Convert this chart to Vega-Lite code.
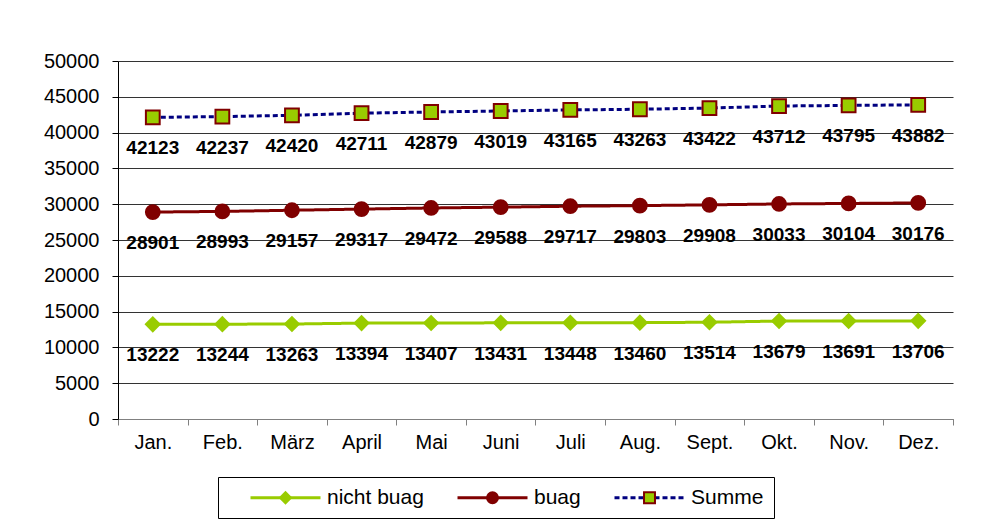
{
  "$schema": "https://vega.github.io/schema/vega-lite/v6.json",
  "width": 835,
  "height": 358,
  "autosize": {"type": "none"},
  "padding": {"left": 118, "top": 61, "right": 28, "bottom": 111},
  "background": "white",
  "config": {
    "font": "Liberation Sans",
    "view": {"stroke": null}
  },
  "data": {
    "values": [
      {"month": "Jan.", "series": "nicht buag", "value": 13222},
      {"month": "Feb.", "series": "nicht buag", "value": 13244},
      {"month": "März", "series": "nicht buag", "value": 13263},
      {"month": "April", "series": "nicht buag", "value": 13394},
      {"month": "Mai", "series": "nicht buag", "value": 13407},
      {"month": "Juni", "series": "nicht buag", "value": 13431},
      {"month": "Juli", "series": "nicht buag", "value": 13448},
      {"month": "Aug.", "series": "nicht buag", "value": 13460},
      {"month": "Sept.", "series": "nicht buag", "value": 13514},
      {"month": "Okt.", "series": "nicht buag", "value": 13679},
      {"month": "Nov.", "series": "nicht buag", "value": 13691},
      {"month": "Dez.", "series": "nicht buag", "value": 13706},
      {"month": "Jan.", "series": "buag", "value": 28901},
      {"month": "Feb.", "series": "buag", "value": 28993},
      {"month": "März", "series": "buag", "value": 29157},
      {"month": "April", "series": "buag", "value": 29317},
      {"month": "Mai", "series": "buag", "value": 29472},
      {"month": "Juni", "series": "buag", "value": 29588},
      {"month": "Juli", "series": "buag", "value": 29717},
      {"month": "Aug.", "series": "buag", "value": 29803},
      {"month": "Sept.", "series": "buag", "value": 29908},
      {"month": "Okt.", "series": "buag", "value": 30033},
      {"month": "Nov.", "series": "buag", "value": 30104},
      {"month": "Dez.", "series": "buag", "value": 30176},
      {"month": "Jan.", "series": "Summe", "value": 42123},
      {"month": "Feb.", "series": "Summe", "value": 42237},
      {"month": "März", "series": "Summe", "value": 42420},
      {"month": "April", "series": "Summe", "value": 42711},
      {"month": "Mai", "series": "Summe", "value": 42879},
      {"month": "Juni", "series": "Summe", "value": 43019},
      {"month": "Juli", "series": "Summe", "value": 43165},
      {"month": "Aug.", "series": "Summe", "value": 43263},
      {"month": "Sept.", "series": "Summe", "value": 43422},
      {"month": "Okt.", "series": "Summe", "value": 43712},
      {"month": "Nov.", "series": "Summe", "value": 43795},
      {"month": "Dez.", "series": "Summe", "value": 43882}
    ]
  },
  "encoding": {
    "x": {
      "field": "month",
      "type": "ordinal",
      "sort": ["Jan.", "Feb.", "März", "April", "Mai", "Juni", "Juli", "Aug.", "Sept.", "Okt.", "Nov.", "Dez."],
      "bandPosition": 0.5,
      "scale": {"type": "band", "paddingInner": 0, "paddingOuter": 0},
      "axis": {
        "title": null,
        "labelAngle": 0,
        "tickBand": "extent",
        "grid": false,
        "domainColor": "#808080",
        "tickColor": "#808080",
        "tickSize": 6,
        "labelPadding": 7,
        "labelFontSize": 20,
        "labelColor": "#000000",
        "labelFont": "Liberation Sans"
      }
    },
    "y": {
      "field": "value",
      "type": "quantitative",
      "scale": {"domain": [0, 50000], "nice": false},
      "axis": {
        "title": null,
        "values": [0, 5000, 10000, 15000, 20000, 25000, 30000, 35000, 40000, 45000, 50000],
        "format": "d",
        "grid": true,
        "gridColor": "#333333",
        "gridOpacity": 1,
        "domainColor": "#000000",
        "tickColor": "#000000",
        "tickSize": 6,
        "labelPadding": 13,
        "labelFontSize": 20,
        "labelColor": "#000000",
        "labelFont": "Liberation Sans"
      }
    }
  },
  "layer": [
    {
      "mark": {"type": "line", "strokeWidth": 3},
      "encoding": {
        "color": {
          "field": "series",
          "type": "nominal",
          "scale": {"domain": ["nicht buag", "buag", "Summe"], "range": ["#99CC00", "#800000", "#000080"]},
          "legend": {
            "title": null,
            "orient": "none",
            "legendX": 100,
            "legendY": 416,
            "direction": "horizontal",
            "columns": 3,
            "columnPadding": 11,
            "padding": 10,
            "strokeColor": "#000000",
            "symbolType": "M-5,0L5,0",
            "symbolSize": 196,
            "symbolStrokeWidth": 3,
            "symbolOffset": 47,
            "labelOffset": 31,
            "labelFontSize": 21,
            "labelFont": "Liberation Sans",
            "labelColor": "#000000",
            "labelLimit": 300
          }
        },
        "strokeDash": {
          "field": "series",
          "type": "nominal",
          "scale": {"domain": ["nicht buag", "buag", "Summe"], "range": [[1, 0], [1, 0], [5, 3]]}
        }
      }
    },
    {
      "mark": {"type": "point", "filled": true, "opacity": 1, "strokeWidth": 2, "size": 190},
      "encoding": {
        "shape": {
          "field": "series",
          "type": "nominal",
          "sort": {"field": "value", "op": "min"},
          "scale": {"range": ["diamond", "circle", "square"]},
          "legend": {
            "title": null,
            "orient": "none",
            "legendX": 100,
            "legendY": 416,
            "direction": "horizontal",
            "columns": 3,
            "columnPadding": 11,
            "padding": 10,
            "symbolSize": 120,
            "symbolStrokeWidth": 2,
            "symbolOffset": 47,
            "labelOffset": 31,
            "labelFontSize": 21,
            "labelFont": "Liberation Sans",
            "labelColor": "#ffffff",
            "labelOpacity": 0,
            "labelLimit": 300
          }
        },
        "fill": {
          "field": "series",
          "type": "nominal",
          "sort": {"field": "value", "op": "min"},
          "scale": {"range": ["#99CC00", "#800000", "#99CC00"]}
        },
        "stroke": {
          "field": "series",
          "type": "nominal",
          "sort": {"field": "value", "op": "min"},
          "scale": {"range": ["#99CC00", "#800000", "#800000"]}
        }
      }
    },
    {
      "mark": {"type": "text", "dy": 31, "fontWeight": "bold", "fontSize": 19, "color": "#000000", "font": "Liberation Sans"},
      "encoding": {
        "text": {"field": "value", "type": "quantitative", "format": "d"}
      }
    }
  ]
}
